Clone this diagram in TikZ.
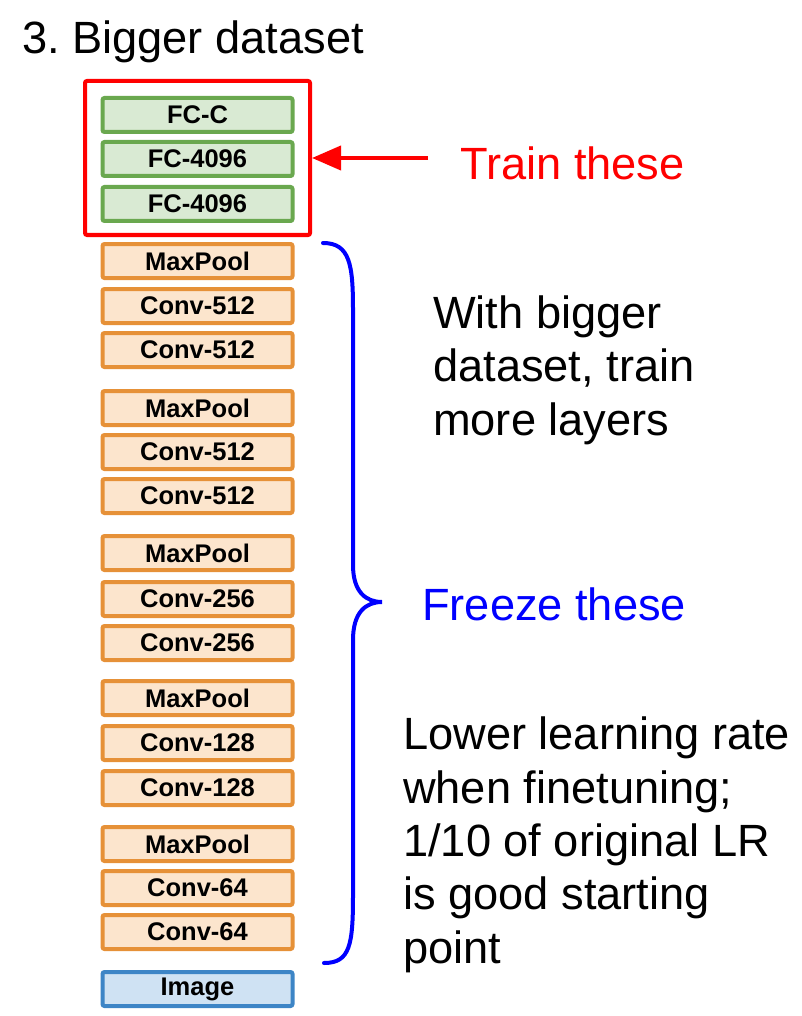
\documentclass[tikz,border=0pt]{standalone}
\usepackage{fontspec}
\setmainfont{Liberation Sans}
\usetikzlibrary{arrows.meta}
\frenchspacing
\definecolor{fcfill}{HTML}{D9EAD3}
\definecolor{fcline}{HTML}{6AA84F}
\definecolor{cvfill}{HTML}{FCE5CD}
\definecolor{cvline}{HTML}{E69138}
\definecolor{imfill}{HTML}{CFE2F3}
\definecolor{imline}{HTML}{3D85C6}
\definecolor{trainred}{HTML}{FF0000}
\definecolor{freezeblue}{HTML}{0000FF}
\tikzset{
  layer/.style={draw, line width=4pt, rounded corners=2pt, minimum width=190pt, minimum height=34pt,
    inner sep=0pt, font=\fontsize{25.5}{30}\selectfont\bfseries},
  fc/.style={layer, draw=fcline, fill=fcfill},
  cv/.style={layer, draw=cvline, fill=cvfill},
  im/.style={layer, draw=imline, fill=imfill},
  bigtext/.style={inner sep=0pt, anchor=base west, align=left, font=\fontsize{45.2}{53.3}\selectfont},
}
\begin{document}
\begin{tikzpicture}[x=1pt, y=-1pt]
\useasboundingbox (0,0) rectangle (801,1016);
\node[bigtext] (title) at (22,54) {3. Bigger dataset};
% FC layers
\node[fc] (fcc) at (197.5,115) {FC-C};
\node[fc] (fc2) at (197.5,159) {FC-4096};
\node[fc] (fc1) at (197.5,204) {FC-4096};
% red frame
\node[draw=trainred, line width=4pt, rounded corners=2pt, minimum width=225pt, minimum height=154pt, inner sep=0pt] (train) at (197.5,158) {};
\coordinate (arrstart) at (428,158);
\draw[trainred, line width=4pt, -{Triangle[length=29pt,width=24pt]}] (arrstart) -- (train.east);
\node[bigtext, text=trainred] (traintxt) at (460,180) {Train these};
% conv layers
\node[cv] (mp5) at (197.5,261) {MaxPool};
\node[cv] (c52) at (197.5,306) {Conv-512};
\node[cv] (c51) at (197.5,350) {Conv-512};
\node[cv] (mp4) at (197.5,408) {MaxPool};
\node[cv] (c42) at (197.5,452) {Conv-512};
\node[cv] (c41) at (197.5,496) {Conv-512};
\node[cv] (mp3) at (197.5,553) {MaxPool};
\node[cv] (c32) at (197.5,599) {Conv-256};
\node[cv] (c31) at (197.5,643) {Conv-256};
\node[cv] (mp2) at (197.5,698) {MaxPool};
\node[cv] (c22) at (197.5,743) {Conv-128};
\node[cv] (c21) at (197.5,788) {Conv-128};
\node[cv] (mp1) at (197.5,844) {MaxPool};
\node[cv] (c12) at (197.5,888) {Conv-64};
\node[cv] (c11) at (197.5,932) {Conv-64};
\node[im] (img) at (197.5,989) {Image};
% brace
\coordinate (btop) at (323,243);
\coordinate (btip) at (382,602);
\coordinate (bbot) at (324,963);
\draw[freezeblue, line width=4pt, line cap=round]
  (btop) .. controls (350,243) and (353,265) .. (353,310)
  -- (353,565) .. controls (353,592) and (366,602) .. (btip)
  .. controls (366,602) and (353,612) .. (353,640)
  -- (353,895) .. controls (353,945) and (350,963) .. (bbot);
\node[bigtext, text=freezeblue] (freezetxt) at (422,620) {Freeze these};
\node[bigtext] (moretxt) at (433,435) {With bigger\\dataset, train\\more layers};
\node[bigtext] (lrtxt) at (403,963) {Lower learning rate\\when finetuning;\\1/10 of original LR\\is good starting\\point};
\end{tikzpicture}
\end{document}
